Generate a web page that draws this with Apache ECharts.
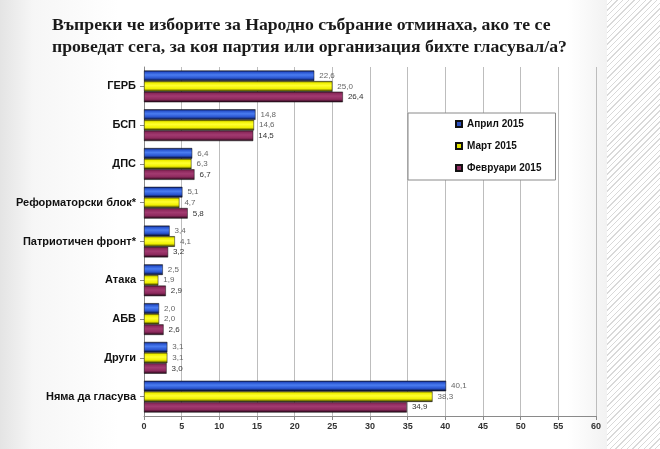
<!DOCTYPE html>
<html>
<head>
<meta charset="utf-8">
<script src="https://cdn.jsdelivr.net/npm/echarts@6/dist/echarts.min.js"></script>
<style>
html,body{margin:0;padding:0;width:660px;height:449px;overflow:hidden;}
body{background:linear-gradient(90deg,#e4e4e4 0%,#f6f6f6 5%,#ffffff 18%,#ffffff 86%,#f2f2f2 92%);}
#hatch{position:absolute;left:607px;top:0;width:53px;height:449px;
background:repeating-linear-gradient(135deg,#ffffff 0px,#ffffff 3px,#d9d9d9 3px,#d9d9d9 4px);}
#chart{position:absolute;left:0;top:0;width:660px;height:449px;}
</style>
</head>
<body>
<div id="hatch"></div>
<div id="chart"></div>
<script>
const titleLines = ['Въпреки че изборите за Народно събрание отминаха, ако те се', 'проведат сега, за коя партия или организация бихте гласувал/а?'];
const categories = ['ГЕРБ', 'БСП', 'ДПС', 'Реформаторски блок*', 'Патриотичен фронт*', 'Атака', 'АБВ', 'Други', 'Няма да гласува'];
const seriesNames = ['Април 2015', 'Март 2015', 'Февруари 2015'];
const april2015 = [22.6, 14.8, 6.4, 5.1, 3.4, 2.5, 2.0, 3.1, 40.1];
const march2015 = [25.0, 14.6, 6.3, 4.7, 4.1, 1.9, 2.0, 3.1, 38.3];
const feb2015 = [26.4, 14.5, 6.7, 5.8, 3.2, 2.9, 2.6, 3.0, 34.9];
const xTicks = { min: 0, max: 60, interval: 5 };

function grad(dark, mid, bright, bottom) {
  return new echarts.graphic.LinearGradient(0, 0, 0, 1, [
    { offset: 0, color: dark },
    { offset: 0.18, color: mid },
    { offset: 0.42, color: bright },
    { offset: 0.72, color: mid },
    { offset: 1, color: bottom }
  ]);
}
const fills = [
  grad('#0b1650', '#2a55d0', '#4a7cf0', '#020418'),
  grad('#6a6a00', '#f0f000', '#ffff30', '#1a1a00'),
  grad('#5a1838', '#8e2a5e', '#a23a70', '#1a0410')
];
const legendColors = ['#2a4fc0', '#e6e600', '#8e2a5e'];
const labelColors = ['#666', '#666', '#333'];
const dataSets = [april2015, march2015, feb2015];

const chart = echarts.init(document.getElementById('chart'));
chart.setOption({
  animation: false,
  title: {
    text: titleLines.join('\n'),
    left: 47, top: 9,
    textStyle: { fontFamily: 'Liberation Serif', fontWeight: 'bold', fontSize: 17.7, lineHeight: 22, color: '#1a1a1a' }
  },
  legend: {
    orient: 'vertical',
    left: 408, top: 113,
    padding: [6, 14, 7, 47],
    itemGap: 12,
    itemWidth: 6, itemHeight: 6,
    icon: 'rect',
    backgroundColor: '#ffffff',
    borderColor: '#8a8a8a', borderWidth: 1,
    textStyle: { fontFamily: 'Liberation Sans', fontWeight: 'bold', fontSize: 10, color: '#111' },
    data: seriesNames.map((n, i) => ({ name: n, itemStyle: { color: legendColors[i] } }))
  },
  grid: { left: 144, right: 64, top: 67, bottom: 33, containLabel: false },
  xAxis: {
    type: 'value', min: xTicks.min, max: xTicks.max, interval: xTicks.interval,
    axisLine: { show: true, lineStyle: { color: '#8a8a8a' } },
    axisTick: { show: true, length: 4, lineStyle: { color: '#8a8a8a' } },
    axisLabel: { fontFamily: 'Liberation Sans', fontWeight: 'bold', fontSize: 9, color: '#333', margin: 6 },
    splitLine: { show: true, lineStyle: { color: '#bdbdbd', width: 1 } }
  },
  yAxis: {
    type: 'category', data: categories, inverse: true,
    axisLine: { show: true, lineStyle: { color: '#8a8a8a' } },
    axisTick: { show: true, alignWithLabel: true, length: 4, lineStyle: { color: '#8a8a8a' } },
    axisLabel: { fontFamily: 'Liberation Sans', fontWeight: 'bold', fontSize: 11, color: '#111', margin: 8 }
  },
  series: seriesNames.map((n, i) => ({
    name: n, type: 'bar', data: dataSets[i],
    barGap: '0%', barCategoryGap: '18%',
    itemStyle: { color: fills[i], borderColor: '#111', borderWidth: 0.5 },
    label: {
      show: true, position: 'right', distance: 5,
      fontFamily: 'Liberation Sans', fontSize: 8, color: labelColors[i],
      formatter: p => p.value.toFixed(1).replace('.', ',')
    }
  }))
});
</script>
</body>
</html>
